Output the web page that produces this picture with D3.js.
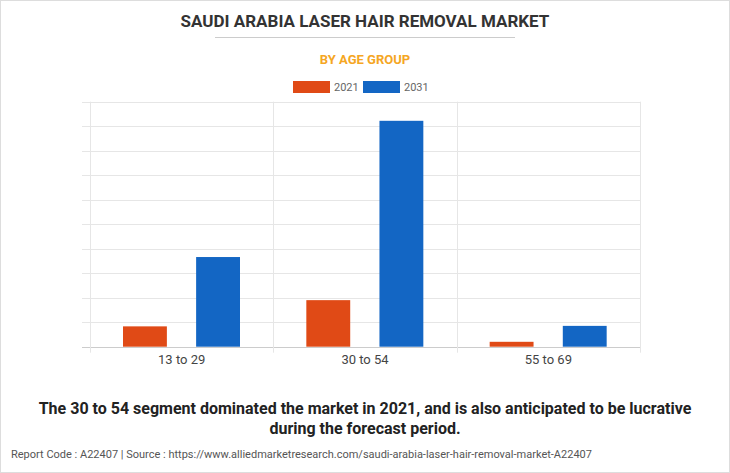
<!DOCTYPE html><html><head><meta charset="utf-8"><script src="https://cdn.jsdelivr.net/npm/d3@7"></script>
<style>body{margin:0;background:#fff;font-family:Roboto,Arial,sans-serif}</style></head><body><svg id="c" width="730" height="473"></svg>
<script>
const categories=["13 to 29","30 to 54","55 to 69"];
const series=["2021","2031"];
const values2021=[0.83,1.9,0.2];
const values2031=[3.66,9.22,0.85];
const colors=["#e04a16","#1366c4"];
const svg=d3.select("#c");
svg.append("rect").attr("x",0.5).attr("y",0.5).attr("width",729).attr("height",472).attr("fill","#fff").attr("stroke","#ddd");
svg.append("text").attr("x",365).attr("y",27).attr("text-anchor","middle").attr("font-size",17).attr("font-weight","bold").attr("fill","#333").text("SAUDI ARABIA LASER HAIR REMOVAL MARKET");
svg.append("line").attr("x1",215).attr("x2",515).attr("y1",37.5).attr("y2",37.5).attr("stroke","#ccc");
svg.append("text").attr("x",365).attr("y",64).attr("text-anchor","middle").attr("font-size",13).attr("font-weight","bold").attr("fill","#f5a623").text("BY AGE GROUP");
const L=90,R=640,T=101.7,B=346.7;
const x0=d3.scaleBand().domain(categories).range([L,R]);
const x1=d3.scaleBand().domain(series).range([33,150]).paddingInner(0.4).paddingOuter(0);
const y=d3.scaleLinear().domain([0,10]).range([B,T]);
const g=svg.append("g");
y.ticks(10).forEach(t=>g.append("line").attr("x1",82).attr("x2",R).attr("y1",Math.round(y(t))+0.5).attr("y2",Math.round(y(t))+0.5).attr("stroke",t===0?"#ccc":"#e6e6e6"));
[L,...categories.map(c=>x0(c)+x0.bandwidth())].forEach(v=>g.append("line").attr("x1",Math.round(v)+0.5).attr("x2",Math.round(v)+0.5).attr("y1",T).attr("y2",B+6).attr("stroke","#e6e6e6"));
const data=[values2021,values2031];
categories.forEach((c,i)=>series.forEach((s,j)=>{
 g.append("rect").attr("x",x0(c)+x1(s)).attr("width",x1.bandwidth()).attr("y",y(data[j][i])).attr("height",B-y(data[j][i])).attr("fill",colors[j]);
}));
categories.forEach(c=>svg.append("text").attr("x",x0(c)+x0.bandwidth()/2).attr("y",364).attr("text-anchor","middle").attr("font-size",13).attr("fill","#444").text(c));
const lg=[[293,"2021"],[363,"2031"]];
lg.forEach(([lx,t],j)=>{svg.append("rect").attr("x",lx).attr("y",81).attr("width",37).attr("height",12).attr("fill",colors[j]);
svg.append("text").attr("x",lx+41).attr("y",91).attr("font-size",11).attr("fill","#666").text(t);});
svg.append("text").attr("x",365).attr("y",414).attr("text-anchor","middle").attr("font-size",16).attr("font-weight","bold").attr("fill","#222").text("The 30 to 54 segment dominated the market in 2021, and is also anticipated to be lucrative");
svg.append("text").attr("x",365).attr("y",434).attr("text-anchor","middle").attr("font-size",16).attr("font-weight","bold").attr("fill","#222").text("during the forecast period.");
svg.append("text").attr("x",11).attr("y",458).attr("font-size",11).attr("fill","#555").text("Report Code : A22407  |  Source : https://www.alliedmarketresearch.com/saudi-arabia-laser-hair-removal-market-A22407");
</script></body></html>
